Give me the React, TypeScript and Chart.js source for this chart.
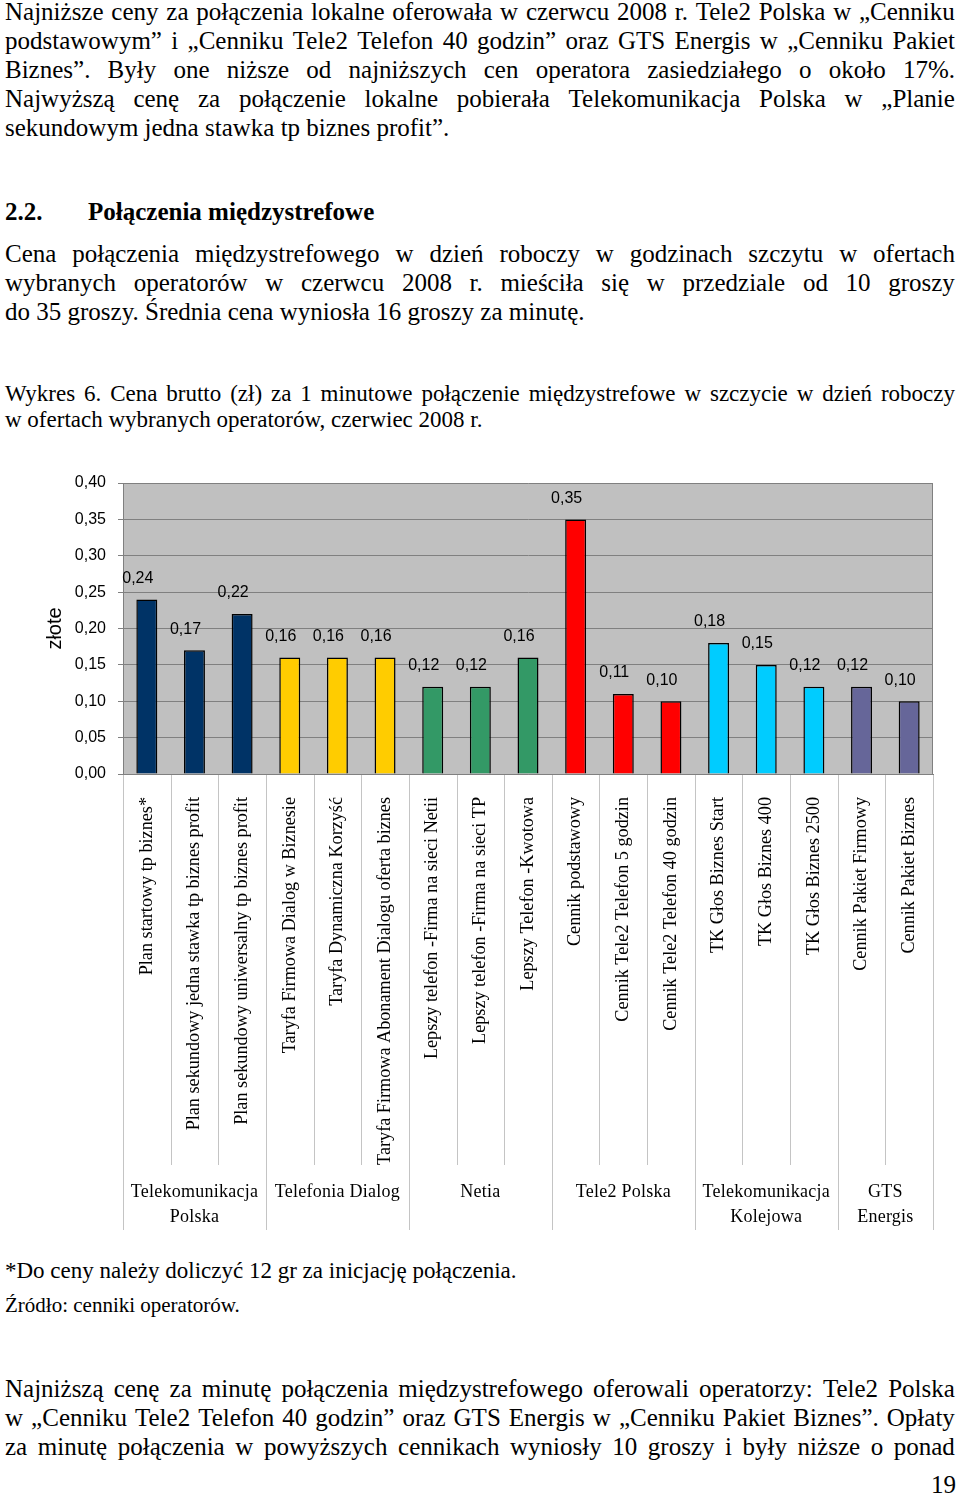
import React, { useEffect, useRef } from 'react';
import { Chart, registerables } from 'chart.js';

Chart.register(...registerables);

const SERIF = '"Liberation Serif", "Times New Roman", serif';
const SANS = '"Liberation Sans", Arial, sans-serif';

// ---- chart data ----
const categories = [
  'Plan startowy tp biznes*',
  'Plan sekundowy jedna stawka tp biznes profit',
  'Plan sekundowy uniwersalny tp biznes profit',
  'Taryfa Firmowa Dialog w Biznesie',
  'Taryfa Dynamiczna Korzyść',
  'Taryfa Firmowa Abonament Dialogu oferta biznes',
  'Lepszy telefon -Firma na sieci Netii',
  'Lepszy telefon -Firma na sieci TP',
  'Lepszy Telefon -Kwotowa',
  'Cennik podstawowy',
  'Cennik Tele2 Telefon 5 godzin',
  'Cennik Tele2 Telefon 40 godzin',
  'TK Głos Biznes Start',
  'TK Głos Biznes 400',
  'TK Głos Biznes 2500',
  'Cennik Pakiet Firmowy',
  'Cennik Pakiet Biznes',
];
const prices = [0.24, 0.17, 0.22, 0.16, 0.16, 0.16, 0.12, 0.12, 0.16, 0.35, 0.11, 0.10, 0.18, 0.15, 0.12, 0.12, 0.10];
const operators = [
  ['Telekomunikacja', 'Polska'],
  ['Telefonia Dialog'],
  ['Netia'],
  ['Tele2 Polska'],
  ['Telekomunikacja', 'Kolejowa'],
  ['GTS', 'Energis'],
];
const operatorSizes = [3, 3, 3, 3, 3, 2];
const operatorColors = ['#003366', '#FFCC00', '#339966', '#FF0000', '#00CCFF', '#666699'];
const yAxisTitle = 'złote';
const yMin = 0;
const yMax = 0.4;
const yStep = 0.05;

// ---- page text ----
const para1 = [
  'Najniższe ceny za połączenia lokalne oferowała w czerwcu 2008 r. Tele2 Polska w „Cenniku',
  'podstawowym” i „Cenniku Tele2 Telefon 40 godzin” oraz GTS Energis w „Cenniku Pakiet',
  'Biznes”. Były one niższe od najniższych cen operatora zasiedziałego o około 17%.',
  'Najwyższą cenę za połączenie lokalne pobierała Telekomunikacja Polska w „Planie',
  'sekundowym jedna stawka tp biznes profit”.',
];
const headingNum = '2.2.';
const headingText = 'Połączenia międzystrefowe';
const para2 = [
  'Cena połączenia międzystrefowego w dzień roboczy w godzinach szczytu w ofertach',
  'wybranych operatorów w czerwcu 2008 r. mieściła się w przedziale od 10 groszy',
  'do 35 groszy. Średnia cena wyniosła 16 groszy za minutę.',
];
const caption = [
  'Wykres 6.  Cena brutto (zł) za 1 minutowe połączenie międzystrefowe w szczycie w dzień roboczy',
  'w ofertach wybranych operatorów, czerwiec 2008 r.',
];
const footnote = '*Do ceny należy doliczyć 12 gr za inicjację połączenia.';
const source = 'Źródło: cenniki operatorów.';
const para3 = [
  'Najniższą cenę za minutę połączenia międzystrefowego oferowali operatorzy: Tele2 Polska',
  'w „Cenniku Tele2 Telefon 40 godzin” oraz GTS Energis w „Cenniku Pakiet Biznes”. Opłaty',
  'za minutę połączenia w powyższych cennikach wyniosły 10 groszy i były niższe o ponad',
];
const pageNumber = '19';

const fmt = (v: number) => v.toFixed(2).replace('.', ',');

const barColors: string[] = [];
const groupStart: number[] = [];
{
  let k = 0;
  operatorSizes.forEach((n, g) => {
    groupStart.push(k);
    for (let i = 0; i < n; i++) barColors.push(operatorColors[g]);
    k += n;
  });
}

const CANVAS_TOP = 460;

const pagePlugin = {
  id: 'pageDecor',
  beforeDraw(chart: any) {
    const { ctx, chartArea: a } = chart;
    ctx.save();
    ctx.fillStyle = '#c0c0c0';
    ctx.fillRect(a.left, a.top, a.right - a.left, a.bottom - a.top);
    ctx.restore();
  },
  afterDraw(chart: any) {
    const { ctx, chartArea: a } = chart;
    const xs = chart.scales.x;
    const n = categories.length;
    ctx.save();
    // right frame line
    ctx.strokeStyle = '#808080';
    ctx.lineWidth = 1;
    ctx.beginPath();
    ctx.moveTo(Math.round(a.right) - 0.5, a.top);
    ctx.lineTo(Math.round(a.right) - 0.5, a.bottom);
    ctx.stroke();

    // separators under the axis
    const boundary = (k: number) => {
      if (k === 0) return a.left;
      if (k === n) return a.right;
      return (xs.getPixelForValue(k - 1) + xs.getPixelForValue(k)) / 2;
    };
    const groupEdges = new Set<number>([...groupStart, n]);
    ctx.strokeStyle = '#c4c4c4';
    for (let k = 0; k <= n; k++) {
      const x = Math.round(boundary(k)) + 0.5;
      const yEnd = groupEdges.has(k) ? 1230 - CANVAS_TOP : 1165 - CANVAS_TOP;
      ctx.beginPath();
      ctx.moveTo(x, a.bottom + 1);
      ctx.lineTo(x, yEnd);
      ctx.stroke();
    }

    // operator labels
    ctx.fillStyle = '#000';
    ctx.font = `18px ${SERIF}`;
    ctx.textAlign = 'center';
    ctx.textBaseline = 'alphabetic';
    try {
      (ctx as any).letterSpacing = '0.25px';
    } catch (e) {
      /* ignore */
    }
    operators.forEach((lines, g) => {
      const s = groupStart[g];
      const e = s + operatorSizes[g];
      const cx = (boundary(s) + boundary(e)) / 2;
      lines.forEach((t, li) => {
        ctx.fillText(t, cx, 1197 - CANVAS_TOP + li * 25);
      });
    });
    try {
      (ctx as any).letterSpacing = '0px';
    } catch (e) {
      /* ignore */
    }

    // value labels
    const meta = chart.getDatasetMeta(0);
    ctx.font = `16px ${SANS}`;
    ctx.textBaseline = 'middle';
    meta.data.forEach((el: any, i: number) => {
      ctx.fillText(fmt(prices[i]), el.x - 9, el.y - 21);
    });
    ctx.restore();
  },
};

function ChartBlock() {
  const ref = useRef<HTMLCanvasElement | null>(null);
  useEffect(() => {
    if (!ref.current) return;
    const chart = new Chart(ref.current, {
      type: 'bar',
      data: {
        labels: categories,
        datasets: [
          {
            data: prices,
            backgroundColor: barColors,
            borderColor: '#000',
            borderWidth: 1.5,
            categoryPercentage: 1,
            barPercentage: 0.44,
          },
        ],
      },
      options: {
        responsive: false,
        animation: false,
        devicePixelRatio: 1,
        layout: { padding: { left: 0, right: 27, top: 23, bottom: 0 } },
        plugins: { legend: { display: false }, tooltip: { enabled: false }, title: { display: false } },
        scales: {
          x: {
            grid: { display: false, drawTicks: false },
            border: { display: true, color: '#808080', width: 1 },
            ticks: {
              autoSkip: false,
              minRotation: 90,
              maxRotation: 90,
              padding: 23,
              color: '#000',
              font: { family: SERIF, size: 18.2 },
            },
            afterFit: (s: any) => {
              s.height = 466;
            },
          },
          y: {
            min: yMin,
            max: yMax,
            grid: { color: '#808080', lineWidth: 1, drawTicks: true, tickLength: 5 },
            border: { display: true, color: '#808080', width: 1 },
            ticks: {
              stepSize: yStep,
              padding: 12,
              color: '#000',
              font: { family: SANS, size: 16 },
              callback: (v: any) => fmt(Number(v)),
            },
            title: {
              display: true,
              text: yAxisTitle,
              color: '#000',
              font: { family: SANS, size: 20 },
              padding: { top: 43, bottom: 0 },
            },
            afterFit: (s: any) => {
              s.width = 123;
            },
          },
        },
      },
      plugins: [pagePlugin],
    });
    return () => chart.destroy();
  }, []);
  return (
    <canvas
      ref={ref}
      width={960}
      height={780}
      style={{ position: 'absolute', left: 0, top: CANVAS_TOP, width: 960, height: 780 }}
    />
  );
}

type LineProps = { text: string; baseline: number; size: number; justify?: boolean; left?: number; bold?: boolean };

function TextLine({ text, baseline, size, justify, left = 5, bold }: LineProps) {
  const style: React.CSSProperties = {
    position: 'absolute',
    left,
    top: baseline - 0.8375 * size,
    fontFamily: SERIF,
    fontSize: size,
    lineHeight: `${size}px`,
    fontWeight: bold ? 'bold' : 'normal',
    whiteSpace: 'nowrap',
    color: '#000',
  };
  if (justify) {
    return (
      <div style={{ ...style, width: 955 - left, display: 'flex', justifyContent: 'space-between' }}>
        {text
          .split(' ')
          .filter(Boolean)
          .map((w, i) => (
            <span key={i}>{w}</span>
          ))}
      </div>
    );
  }
  return <div style={style}>{text}</div>;
}

export default function App() {
  useEffect(() => {
    document.body.style.margin = '0';
  }, []);
  return (
    <div style={{ position: 'absolute', left: 0, top: 0, width: 960, height: 1496, background: '#fff', overflow: 'hidden' }}>
      {para1.map((t, i) => (
        <TextLine key={'p1' + i} text={t} baseline={20 + i * 29} size={25} justify={i < para1.length - 1} />
      ))}
      <TextLine text={headingNum} baseline={220} size={25} bold />
      <TextLine text={headingText} baseline={220} size={25} bold left={88} />
      {para2.map((t, i) => (
        <TextLine key={'p2' + i} text={t} baseline={262 + i * 29} size={25} justify={i < para2.length - 1} />
      ))}
      {caption.map((t, i) => (
        <TextLine key={'c' + i} text={t} baseline={401 + i * 26} size={23} justify={i < caption.length - 1} />
      ))}
      <ChartBlock />
      <TextLine text={footnote} baseline={1278} size={23} />
      <TextLine text={source} baseline={1313} size={21} />
      {para3.map((t, i) => (
        <TextLine key={'p3' + i} text={t} baseline={1397 + i * 29} size={25} justify />
      ))}
      <div
        style={{
          position: 'absolute',
          left: 856,
          width: 100,
          top: 1493 - 0.8375 * 25,
          textAlign: 'right',
          fontFamily: SERIF,
          fontSize: 25,
          lineHeight: '25px',
        }}
      >
        {pageNumber}
      </div>
    </div>
  );
}
